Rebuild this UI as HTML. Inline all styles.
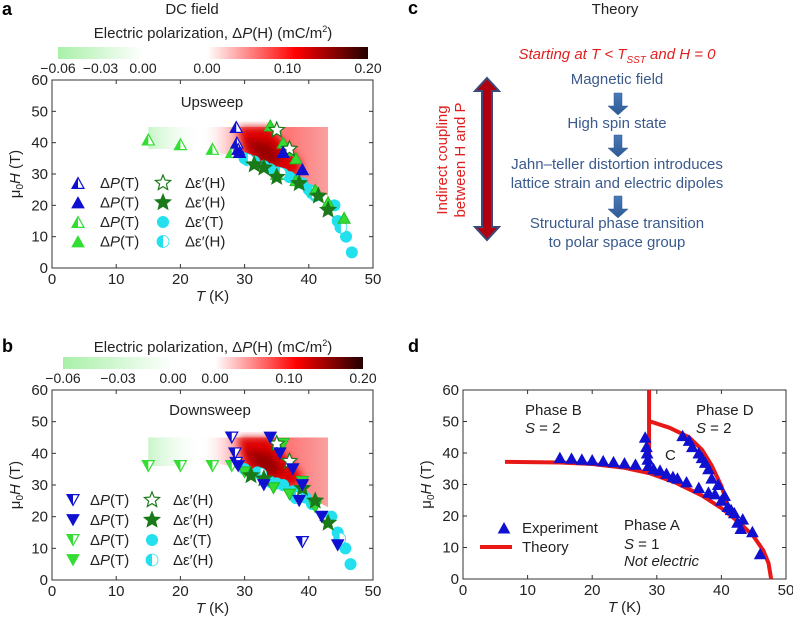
<!DOCTYPE html>
<html><head><meta charset="utf-8"><style>
body{margin:0;background:#fff;width:793px;height:621px;overflow:hidden;font-family:"Liberation Sans",sans-serif}
svg text{font-family:"Liberation Sans",sans-serif}
</style></head><body>
<svg id="fig" width="793" height="621" viewBox="0 0 793 621" xmlns="http://www.w3.org/2000/svg">
<defs>
<linearGradient id="gG" x1="0" x2="1"><stop offset="0" stop-color="#a8f0a8"/><stop offset="1" stop-color="#fff"/></linearGradient>
<linearGradient id="gR" x1="0" x2="1"><stop offset="0" stop-color="#fff"/><stop offset="0.55" stop-color="#f00"/><stop offset="1" stop-color="#200"/></linearGradient>
<linearGradient id="hG" x1="0" x2="1"><stop offset="0" stop-color="#c8f5c8"/><stop offset="1" stop-color="#fff" stop-opacity="0"/></linearGradient>
<linearGradient id="hR" x1="0" x2="1"><stop offset="0" stop-color="#fff" stop-opacity="0"/><stop offset="0.3" stop-color="#f99"/><stop offset="0.7" stop-color="#f77"/><stop offset="1" stop-color="#f9a0a0"/></linearGradient>
<linearGradient id="arr" x1="0" x2="0" y1="0" y2="1"><stop offset="0" stop-color="#4a7ab8"/><stop offset="1" stop-color="#2e5a94"/></linearGradient>
<filter id="bl"><feGaussianBlur stdDeviation="4"/></filter>
<clipPath id="cA"><rect x="52" y="80" width="321" height="188"/></clipPath>
<clipPath id="cB"><rect x="52" y="390" width="321" height="190"/></clipPath>
</defs>
<g id="root"></g>
</svg>
<script>
// ---------- data ----------
const aOpenBlue=[[28.7,45],[28.8,40],[29,38]];
const aFillBlue=[[29.2,37],[39,31.5],[36,37]];
const aHalfGreen=[[15,41],[20,39.5],[25,38],[28,37]];
const aFillGreen=[[34,45.5],[36,40],[37,37.5],[38,35],[35,30],[38,28],[41,25],[43,21],[45.5,16]];
const aOpenStar=[[35,44],[37,38]];
const aFillStar=[[31.5,33],[33,32],[35,29],[38.5,27],[41.5,23],[43,18.5]];
const aCircle=[[30,35],[31.5,34],[33,32.5],[34,31.5],[35,30.5],[36,30],[37,29],[38,28],[39,27],[40,25],[41,23],[44,20],[44.5,15],[45.8,10],[46.7,5]];
const aHalfCircle=[[30.5,34.5],[35.5,30.2],[40.5,24],[45,13]];
const bOpenBlue=[[28,45],[28.5,40],[28.7,37],[39,12]];
const bFillBlue=[[29,36],[34,45],[35.5,40],[37.5,35],[39,30],[33,30],[38.5,25],[42,20],[44.5,11]];
const bHalfGreen=[[15,36],[20,36],[25,36],[28,36]];
const bFillGreen=[[36,43],[39,31],[34.5,29],[37,27],[30,34],[41,23]];
const bOpenStar=[[35,43],[37,37.5]];
const bFillStar=[[31,33],[33,32],[39,29],[41,25],[43,18]];
const bCircle=[[30,35],[32,34],[34,31],[35,30.5],[36,30],[37.5,28],[38.5,27],[39.5,26],[40.5,24],[43.5,20],[44.5,15],[45.7,10],[46.5,5]];
const bHalfCircle=[[32.5,33.5],[38,26],[44.8,13]];
const dExp=[[15,38.5],[16.8,38.3],[18.4,38],[20,37.8],[21.7,37.5],[23.3,37.2],[25,36.8],[26.7,36.4],[28.2,45],[28.4,42],[28.5,40],[28.6,38],[28.7,36],[29.5,35],[30.5,34.5],[31.5,33.5],[32.5,32.5],[33.2,32],[34.6,30.8],[36.5,29],[38,27.5],[39,27],[40,25],[41,23],[42,21],[43.3,19],[43,16],[44.8,15],[46,8],[34,45.5],[35,44],[35.5,42],[36.5,40],[37,38.5],[37.5,37],[38,35],[38.5,32],[39.5,30],[40.5,26.5],[41.5,22],[42.5,18]];
const dTheoryLow=[[6.5,37.2],[15,37],[20,36.5],[25,35.3],[29,33.5],[33,30.5],[37,26.5],[40,22.5],[43,17.5],[45,13.5],[46.5,9],[47.3,5],[47.7,0]];
const dTheoryVert=[[28.8,34],[28.8,60]];
const dTheoryUp=[[29,50],[32,48],[35,45],[37,41],[38.5,36],[40,29.5],[41.5,20]];
const xTicks=[0,10,20,30,40,50];
const yTicks=[0,10,20,30,40,50,60];
const cbGreenLabels=["\u22120.06","\u22120.03","0.00"];
const cbRedLabels=["0.00","0.10","0.20"];

const NS="http://www.w3.org/2000/svg";
const root=document.getElementById('root');
function mk(tag,at,parent,txt){const e=document.createElementNS(NS,tag);for(const k in at)e.setAttribute(k,at[k]);if(txt!==undefined)e.textContent=txt;(parent||root).appendChild(e);return e;}
function axes(x0,x1,y0,y1){return {sx:t=>x0+(t/50)*(x1-x0),sy:h=>y0-(h/60)*(y0-y1),x0,x1,y0,y1};}
const A=axes(52,373,268,80), B=axes(52,373,580,390), D=axes(463,786,579,390);

function frame(ax,name){
 const r=mk('rect',{x:ax.x0,y:ax.y1,width:ax.x1-ax.x0,height:ax.y0-ax.y1,fill:'none',stroke:'#333','stroke-width':1});
 
 
 xTicks.forEach(t=>{const x=ax.sx(t);mk('line',{x1:x,x2:x,y1:ax.y0,y2:ax.y0-4,stroke:'#333'});mk('line',{x1:x,x2:x,y1:ax.y1,y2:ax.y1+4,stroke:'#333'});
  const l=mk('text',{x:x,y:ax.y0+16,'font-size':15,'text-anchor':'middle',fill:'#222'},null,String(t));
  
  });
 yTicks.forEach(h=>{const y=ax.sy(h);mk('line',{x1:ax.x0,x2:ax.x0+4,y1:y,y2:y,stroke:'#333'});mk('line',{x1:ax.x1,x2:ax.x1-4,y1:y,y2:y,stroke:'#333'});
  const l=mk('text',{x:ax.x0-4,y:y+5,'font-size':15,'text-anchor':'end',fill:'#222'},null,String(h));
  
  });
 const xt=mk('text',{x:(ax.x0+ax.x1)/2,y:ax.y0+33,'font-size':15,'text-anchor':'middle',fill:'#222'});
 xt.innerHTML='<tspan font-style="italic">T</tspan> (K)';
 
 
 const cy=(ax.y0+ax.y1)/2;
 const yt=mk('text',{x:ax.x0-32,y:cy,'font-size':15,'text-anchor':'middle',fill:'#222',transform:`rotate(-90 ${ax.x0-32} ${cy})`});
 yt.innerHTML='μ<tspan font-size="10" dy="3">0</tspan><tspan dy="-3" font-style="italic">H</tspan> (T)';
 
 
}
function tri(g,x,y,s,down,fill,stroke,half){
 const d=down?-1:1, h=s*0.9;
 const p=`${x-s/2},${y+d*h/2} ${x+s/2},${y+d*h/2} ${x},${y-d*h/2}`;
 if(half){mk('polygon',{points:p,fill:'#fff',stroke:stroke,'stroke-width':1.2},g);
  mk('polygon',{points:`${x-s/2},${y+d*h/2} ${x},${y+d*h/2} ${x},${y-d*h/2}`,fill:fill},g);}
 else mk('polygon',{points:p,fill:fill,stroke:stroke,'stroke-width':1},g);
}
function star(g,x,y,r,fill,stroke){let p=[];for(let i=0;i<10;i++){const rr=i%2?r*0.45:r;const a=-Math.PI/2+i*Math.PI/5;p.push((x+rr*Math.cos(a)).toFixed(1)+','+(y+rr*Math.sin(a)).toFixed(1));}
 mk('polygon',{points:p.join(' '),fill:fill,stroke:stroke,'stroke-width':1.2},g);}
function circ(g,x,y,r,half){mk('circle',{cx:x,cy:y,r:r,fill:half?'#fff':'#22e0ee',stroke:half?'#22e0ee':'none','stroke-width':0.8},g);if(half)mk('path',{d:`M${x},${y-r} A${r},${r} 0 0 0 ${x},${y+r} Z`,fill:'#22e0ee'},g);}
function series(ax,arr,name,fn){const g=mk('g',{});arr.forEach(p=>fn(g,ax.sx(p[0]),ax.sy(p[1])));}

function colorbar(x1,x2,x3,x4,y,title,ty){
 const g=mk('g',{});
 
 
 mk('rect',{x:x1,y:y,width:x2-x1,height:12,fill:'url(#gG)'},g);
 mk('rect',{x:x3,y:y,width:x4-x3,height:12,fill:'url(#gR)'},g);
 cbGreenLabels.forEach((l,i)=>mk('text',{x:x1+i*(x2-x1)/2,y:y+26,'font-size':14,'text-anchor':'middle',fill:'#222'},g,l));
 cbRedLabels.forEach((l,i)=>mk('text',{x:x3+i*(x4-x3)/2,y:y+26,'font-size':14,'text-anchor':'middle',fill:'#222'},g,l));
 const t=mk('text',{x:(x1+x4)/2,y:ty,'font-size':15,'text-anchor':'middle',fill:'#222'},g);
 t.innerHTML='Electric polarization, Δ<tspan font-style="italic">P</tspan>(H) (mC/m<tspan font-size="9" dy="-6">2</tspan><tspan dy="6">)</tspan>';
}
function heat(ax,clip,lowG,greenTop){
 const g=mk('g',{'clip-path':`url(#${clip})`});
 
 
 mk('rect',{x:ax.sx(15),y:ax.sy(45),width:ax.sx(24)-ax.sx(15),height:ax.sy(lowG)-ax.sy(45),fill:'url(#hG)'},g);
 const pts=[[23,45],[43,45],[43,23],[40,26],[35,30],[30,35],[23,38]].map(p=>ax.sx(p[0])+','+ax.sy(p[1])).join(' ');
 mk('polygon',{points:pts,fill:'url(#hR)'},g);
 const dk=[[29,45],[34,45],[39,33],[38,29],[35,30.5],[30,35.5]].map(p=>ax.sx(p[0])+','+ax.sy(p[1])).join(' ');
 mk('polygon',{points:dk,fill:'#d00',filter:'url(#bl)'},g);
 const dk2=[[30,41],[34,40],[36,34],[33,33]].map(p=>ax.sx(p[0])+','+ax.sy(p[1])).join(' ');
 mk('polygon',{points:dk2,fill:'#900',filter:'url(#bl)'},g);
}
function legendPanel(x1,t1,x2,t2,y0,dy,down){
 const g=mk('g',{});
 
 
 const lab=['Δ<tspan font-style="italic">P</tspan>(T)','Δ<tspan font-style="italic">P</tspan>(T)','Δ<tspan font-style="italic">P</tspan>(T)','Δ<tspan font-style="italic">P</tspan>(T)'];
 const lab2=['Δε′(H)','Δε′(H)','Δε′(T)','Δε′(H)'];
 for(let i=0;i<4;i++){const y=y0+i*dy;
  if(i==0)tri(g,x1,y,12,down,'#1010d0','#1010d0',true);
  if(i==1)tri(g,x1,y,12,down,'#1010d0','#1010d0',false);
  if(i==2)tri(g,x1,y,12,down,'#33dd33','#33dd33',true);
  if(i==3)tri(g,x1,y,12,down,'#33dd33','#33dd33',false);
  const t=mk('text',{x:t1,y:y+5,'font-size':15,fill:'#222'},g);t.innerHTML=lab[i];
  if(i==0)star(g,x2,y,8,'#fff','#1a7a1a');
  if(i==1)star(g,x2,y,8,'#1a7a1a','#1a7a1a');
  if(i==2)circ(g,x2,y,6,false);
  if(i==3)circ(g,x2,y,6,true);
  mk('text',{x:t2,y:y+5,'font-size':15,fill:'#222'},g,lab2[i]);}
}
function plotAB(ax,d,name,down){
 series(ax,d[6],name+'-circles',(g,x,y)=>circ(g,x,y,6,false));
 series(ax,d[7],name+'-half-circles',(g,x,y)=>circ(g,x,y,6,true));
 series(ax,d[2],name+'-half-green-tri',(g,x,y)=>tri(g,x,y,12,down,'#33dd33','#33dd33',true));
 series(ax,d[3],name+'-green-tri',(g,x,y)=>tri(g,x,y,12,down,'#33dd33','#22bb22',false));
 series(ax,d[5],name+'-filled-stars',(g,x,y)=>star(g,x,y,8,'#1a7a1a','#1a7a1a'));
 series(ax,d[4],name+'-open-stars',(g,x,y)=>star(g,x,y,8,'#fff','#1a7a1a'));
 series(ax,d[0],name+'-open-blue-tri',(g,x,y)=>tri(g,x,y,12,down,'#1010d0','#1010d0',true));
 series(ax,d[1],name+'-blue-tri',(g,x,y)=>tri(g,x,y,12,down,'#1010d0','#1010d0',false));
}
function lbl(x,y,s,txt,name,extra){const t=mk('text',Object.assign({x:x,y:y,'font-size':s,fill:'#222'},extra||{}));t.innerHTML=txt;return t;}

// Panel a
lbl(2,15,18,'a','panel-a-label',{'font-weight':'bold',fill:'#000'});
lbl(192,14,15,'DC field','panel-a-title',{'text-anchor':'middle'});
colorbar(58,143,207,368,47,'',38);
heat(A,'cA',38,45);
frame(A,'panel-a');
lbl(212,107,15,'Upsweep','upsweep-label',{'text-anchor':'middle'});
plotAB(A,[aOpenBlue,aFillBlue,aHalfGreen,aFillGreen,aOpenStar,aFillStar,aCircle,aHalfCircle],'a',false);
legendPanel(78,100,163,185,183,19.5,false);

// Panel b
lbl(2,352,18,'b','panel-b-label',{'font-weight':'bold',fill:'#000'});
colorbar(63,173,215,363,357,'',352);
heat(B,'cB',36,45);
frame(B,'panel-b');
lbl(210,415,15,'Downsweep','downsweep-label',{'text-anchor':'middle'});
plotAB(B,[bOpenBlue,bFillBlue,bHalfGreen,bFillGreen,bOpenStar,bFillStar,bCircle,bHalfCircle],'b',true);
legendPanel(73,90,152,173,500,20,true);

// Panel c
lbl(408,14,18,'c','panel-c-label',{'font-weight':'bold',fill:'#000'});
lbl(615,14,15,'Theory','panel-c-title',{'text-anchor':'middle'});
lbl(617,59,15,'Starting at <tspan>T</tspan> &lt; T<tspan font-size="10" dy="4">SST</tspan><tspan dy="-4"> and H = 0</tspan>','start-condition',{'text-anchor':'middle','font-style':'italic',fill:'#e02020'});
const steps=[['Magnetic field',84],['High spin state',128],['Jahn–teller distortion introduces',169],['lattice strain and electric dipoles',188],['Structural phase transition',228],['to polar space group',247]];
steps.forEach(s=>lbl(617,s[1],15,s[0],'flow-step',{'text-anchor':'middle',fill:'#3a5a8c'}));
[93,135,196].forEach(y=>{const a=mk('polygon',{points:`614,${y} 622,${y} 622,${y+13} 628,${y+13} 618,${y+22} 608,${y+13} 614,${y+13}`,fill:'url(#arr)',stroke:'#2e5a94','stroke-width':0.5});});
const da=mk('polygon',{points:'487,78 499,91 492,91 492,227 499,227 487,240 475,227 482,227 482,91 475,91',fill:'#b00010',stroke:'#3a4a7a','stroke-width':2});


lbl(447,160,15,'Indirect coupling','coupling-label-1',{'text-anchor':'middle',fill:'#e02020',transform:'rotate(-90 447 160)'});
lbl(465,160,15,'between H and P','coupling-label-2',{'text-anchor':'middle',fill:'#e02020',transform:'rotate(-90 465 160)'});

// Panel d
lbl(408,352,18,'d','panel-d-label',{'font-weight':'bold',fill:'#000'});
frame(D,'panel-d');
[dTheoryLow,dTheoryVert,dTheoryUp].forEach((arr,i)=>{const p=mk('polyline',{points:arr.map(q=>D.sx(q[0])+','+D.sy(q[1])).join(' '),fill:'none',stroke:'#e81818','stroke-width':4,'stroke-linejoin':'round'});});
series(D,dExp,'experiment-points',(g,x,y)=>tri(g,x,y,11,false,'#1010d0','#1010d0',false));
lbl(525,415,15,'Phase B','phase-b-label');
lbl(525,433,15,'<tspan font-style="italic">S</tspan> = 2','phase-b-spin');
lbl(696,415,15,'Phase D','phase-d-label');
lbl(696,433,15,'<tspan font-style="italic">S</tspan> = 2','phase-d-spin');
lbl(665,460,15,'C','phase-c-label');
lbl(624,530,15,'Phase A','phase-a-label');
lbl(624,549,15,'<tspan font-style="italic">S</tspan> = 1','phase-a-spin');
lbl(624,566,15,'Not electric','phase-a-note',{'font-style':'italic'});
const lg=mk('g',{});
tri(lg,504,528,11,false,'#1010d0','#1010d0',false);
mk('text',{x:522,y:533,'font-size':15,fill:'#222'},lg,'Experiment');
mk('line',{x1:480,x2:512,y1:547,y2:547,stroke:'#e81818','stroke-width':4},lg);
mk('text',{x:522,y:552,'font-size':15,fill:'#222'},lg,'Theory');
</script>
</body></html>
